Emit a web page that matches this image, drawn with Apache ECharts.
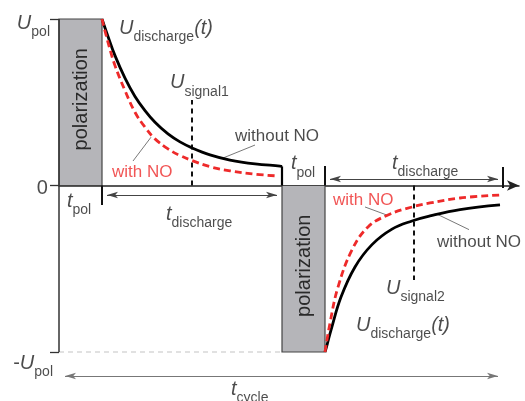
<!DOCTYPE html>
<html><head><meta charset="utf-8">
<script src="https://cdn.jsdelivr.net/npm/echarts@6/dist/echarts.min.js"></script>
<style>html,body{margin:0;padding:0;background:#fff}#c{width:525px;height:401px}</style>
</head><body><div id="c"></div>
<script>
// ---- data (time in arbitrary units, voltage normalised to U_pol) ----
const t1Without = [43,49,56,66,76,86,96,109,121,133,151,171,196,221,223];
const u1Without = [1,0.895,0.78,0.645,0.535,0.45,0.38,0.31,0.262,0.226,0.184,0.153,0.130,0.117,0.115];
const t1With = [43,49,56,66,76,86,96,109,121,133,151,171,196,217];
const u1With = [1,0.86,0.72,0.57,0.44,0.35,0.28,0.22,0.18,0.15,0.113,0.088,0.068,0.058];
const t2Without = [266,268,272,282,296,313,333,353,371,401,441];
const u2Without = [-1,-0.958,-0.868,-0.670,-0.489,-0.355,-0.262,-0.213,-0.183,-0.145,-0.117];
const t2With = [266,271,279,293,309,329,353,371,401,441];
const u2With = [-1,-0.826,-0.610,-0.387,-0.249,-0.177,-0.129,-0.105,-0.075,-0.057];
const polStart = [0, 223];
const polEnd = [43, 266];
const polLevel = [1, -1];
const signalT = [133, 355];
const signalTop = [0.514, -0.568];
const yTicks = [-1, 0, 1];
const cycleEnd = 444;

const FONT = '"Liberation Sans", Arial, sans-serif';
const INK = '#1e1e1e';
const RED = '#ee2a2a';
const AH = 5; // half arrow length

const rich = {
  u: {fontFamily: FONT, fontSize: 20, fontStyle: 'italic', color: INK, lineHeight: 20, padding: [0,0,6,0], verticalAlign: 'bottom'},
  m: {fontFamily: FONT, fontSize: 20, color: INK, lineHeight: 20, padding: [0,0,6,0], verticalAlign: 'bottom'},
  s: {fontFamily: FONT, fontSize: 14, color: INK, lineHeight: 14, verticalAlign: 'bottom'},
  z: {fontFamily: FONT, fontSize: 20, color: INK, lineHeight: 20},
  n: {fontFamily: FONT, fontSize: 17, color: INK, lineHeight: 17},
  r: {fontFamily: FONT, fontSize: 17, color: RED, lineHeight: 17}
};

// annotation text anchors (corner of text block, data coords) and alignment
const notes = [
  [-9, 1.0, '{u|U}{s|pol}', 'right'],
  [-11, 0.042, '{z|0}', 'right'],
  [-6, -1.042, '{m|-}{u|U}{s|pol}', 'right'],
  [60, 0.970, '{u|U}{s|discharge}{u|(t)}', 'left'],
  [111, 0.640, '{u|U}{s|signal1}', 'left'],
  [176, 0.348, '{n|without NO}', 'left'],
  [53, 0.132, '{r|with NO}', 'left'],
  [8, -0.07, '{u|t}{s|pol}', 'left'],
  [107, -0.147, '{u|t}{s|discharge}', 'left'],
  [232, 0.155, '{u|t}{s|pol}', 'left'],
  [333, 0.159, '{u|t}{s|discharge}', 'left'],
  [274, -0.040, '{r|with NO}', 'left'],
  [378, -0.290, '{n|without NO}', 'left'],
  [327, -0.592, '{u|U}{s|signal2}', 'left'],
  [297, -0.814, '{u|U}{s|discharge}{u|(t)}', 'left'],
  [172, -1.202, '{u|t}{s|cycle}', 'left']
];

const zip = (a, b) => a.map((v, i) => [v, b[i]]);

function segSeries(name, rows, style) {
  return {
    type: 'custom', name, silent: true, z: 4, data: rows, clip: false,
    renderItem: (p, api) => {
      const a = api.coord([api.value(0), api.value(1)]);
      const b = api.coord([api.value(2), api.value(3)]);
      return {type: 'line', shape: {x1: a[0], y1: a[1], x2: b[0], y2: b[1]}, style: Object.assign({}, style)};
    }
  };
}

function curve(name, t, u, color, dashed, z) {
  return {type: 'line', name, silent: true, symbol: 'none', smooth: 0.4, z,
    data: zip(t, u), lineStyle: {color, width: 2.8, type: dashed ? [7, 4] : 'solid', cap: 'butt', join: 'round'}};
}

const chart = echarts.init(document.getElementById('c'), null, {renderer: 'canvas'});
const option = {
  animation: false,
  backgroundColor: '#fff',
  grid: {left: 59, right: 6, top: 19, bottom: 15.7, containLabel: false},
  xAxis: {
    type: 'value', min: 0, max: 460,
    axisLine: {show: true, onZero: true, symbol: ['none', 'arrow'], symbolSize: [8, 12], lineStyle: {color: '#222', width: 1.5}},
    axisTick: {show: false}, axisLabel: {show: false}, splitLine: {show: false}
  },
  yAxis: {
    type: 'value', min: -1.2, max: 1,
    axisLine: {show: false}, splitLine: {show: false},
    axisTick: {show: true, length: 9, customValues: yTicks, lineStyle: {color: '#333', width: 1.3}},
    axisLabel: {show: false}
  },
  series: [
    {
      type: 'custom', name: 'polarization', silent: true, z: 1,
      data: polStart.map((s, i) => [s, polEnd[i], Math.min(0, polLevel[i]), Math.max(0, polLevel[i])]),
      renderItem: (p, api) => {
        const a = api.coord([api.value(0), api.value(3)]);
        const b = api.coord([api.value(1), api.value(2)]);
        return {type: 'group', children: [
          {type: 'rect', shape: {x: a[0], y: a[1], width: b[0] - a[0], height: b[1] - a[1]},
           style: {fill: '#b5b5b9', stroke: '#444', lineWidth: 1.2}},
          {type: 'text', x: (a[0] + b[0]) / 2 + 1, y: (a[1] + b[1]) / 2 - 3, rotation: Math.PI / 2,
           style: {text: 'polarization', fill: '#2a2a2a', fontFamily: FONT, fontSize: 20, align: 'center', verticalAlign: 'middle'}}
        ]};
      }
    },
    {
      type: 'line', name: 'axis', silent: true, symbol: 'none', z: 3,
      data: [[0, polLevel[0]], [0, polLevel[1]]],
      lineStyle: {color: '#333', width: 1.5}
    },
    {
      type: 'line', name: '-Upol level', silent: true, symbol: 'none', z: 2,
      data: [[0, polLevel[1]], [polStart[1], polLevel[1]]],
      lineStyle: {color: '#c4c4c4', width: 1.2, type: [5, 4]},
      markLine: {
        silent: true, symbol: ['arrow', 'arrow'], symbolSize: [5, 11],
        label: {show: false}, emphasis: {disabled: true},
        lineStyle: {color: '#444', width: 1, type: 'solid'},
        data: [
          [{coord: [polEnd[0] + AH, -0.057]}, {coord: [polStart[1] - AH, -0.057]}],
          [{coord: [polEnd[1] + AH, 0.039]}, {coord: [cycleEnd - AH, 0.039]}],
          [{coord: [1 + AH, -1.144], lineStyle: {color: '#777'}}, {coord: [cycleEnd - AH, -1.144]}]
        ]
      }
    },
    {type: 'line', name: 'signal1', silent: true, symbol: 'none', z: 3,
     data: [[signalT[0], 0], [signalT[0], signalTop[0]]], lineStyle: {color: '#111', width: 2, type: [5, 4]}},
    {type: 'line', name: 'signal2', silent: true, symbol: 'none', z: 3,
     data: [[signalT[1], 0], [signalT[1], signalTop[1]]], lineStyle: {color: '#111', width: 2, type: [5, 4]}},
    curve('without NO 1', t1Without, u1Without, '#000', false, 5),
    curve('with NO 1', t1With, u1With, RED, true, 6),
    curve('without NO 2', t2Without, u2Without, '#000', false, 5),
    curve('with NO 2', t2With, u2With, RED, true, 6),
    segSeries('switch', [[polStart[1], u1Without[u1Without.length - 1], polStart[1], 0]], {stroke: '#000', lineWidth: 2.2}),
    segSeries('ticks', [[polEnd[0], 0, polEnd[0], -0.117], [polEnd[1], 0, polEnd[1], 0.117], [cycleEnd, -0.015, cycleEnd, 0.111]],
      {stroke: '#111', lineWidth: 2}),
    segSeries('leaders', [[164, 0.165, 196, 0.243], [74, 0.147, 92, 0.29], [306, -0.129, 329, -0.18], [379, -0.175, 410, -0.265]],
      {stroke: '#555', lineWidth: 0.8}),
    {
      type: 'scatter', name: 'labels', silent: true, clip: false, z: 10,
      symbolSize: 0.01, itemStyle: {color: 'rgba(0,0,0,0)'},
      data: notes.map(n => ({value: [n[0], n[1]], label: {formatter: n[2], align: n[3]}})),
      label: {show: true, position: [0, 0], verticalAlign: 'top', rich}
    }
  ]
};
chart.setOption(option);
</script></body></html>
